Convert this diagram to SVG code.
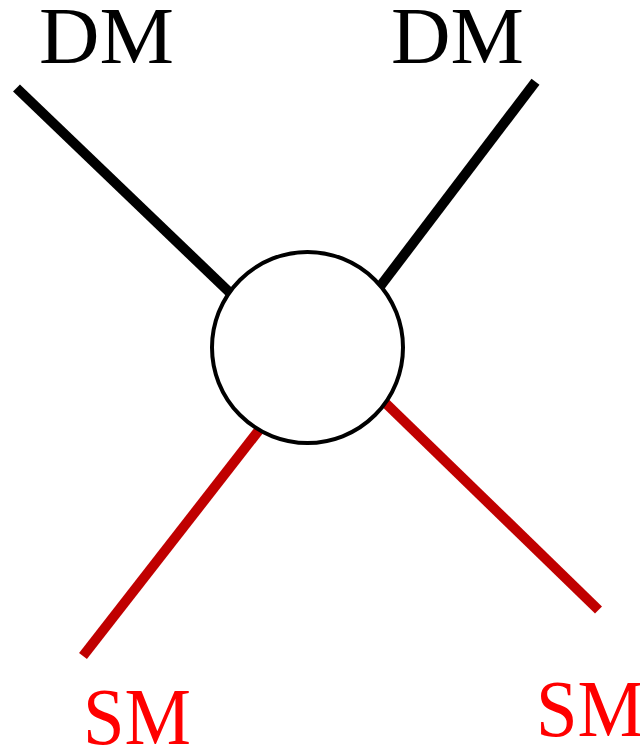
<svg xmlns="http://www.w3.org/2000/svg" width="640" height="750" viewBox="0 0 640 750">
<style>
.dm{font-family:"Liberation Serif","Times New Roman",serif;font-size:81px;fill:#000}
.sm{font-family:"Liberation Serif","Times New Roman",serif;font-size:80px;fill:#ff0000}
.blk{stroke:#000;stroke-width:10;stroke-linecap:butt;fill:none}
.red{stroke:#c00000;stroke-width:10;stroke-linecap:butt;fill:none}
</style>
<rect width="640" height="750" fill="#fff"/>
<g id="connectors">
<line class="blk" x1="16.5" y1="88" x2="250" y2="312"/>
<line class="blk" x1="535.5" y1="81.7" x2="366" y2="305"/>
<line class="red" x1="598.5" y1="610" x2="370" y2="388"/>
<line class="red" x1="83" y1="656" x2="270" y2="416"/>
</g>
<g id="vertex">
<circle cx="307.5" cy="347.5" r="95.5" fill="#fff" stroke="#000" stroke-width="4"/>
</g>
<g id="dm1"><text class="dm" x="39" y="63" textLength="135" lengthAdjust="spacingAndGlyphs">DM</text></g>
<g id="dm2"><text class="dm" x="391" y="63" textLength="133" lengthAdjust="spacingAndGlyphs">DM</text></g>
<g id="sm1"><text class="sm" x="83" y="744" textLength="108" lengthAdjust="spacingAndGlyphs">SM</text></g>
<g id="sm2"><text class="sm" x="536" y="736" textLength="108" lengthAdjust="spacingAndGlyphs">SM</text></g>
</svg>
